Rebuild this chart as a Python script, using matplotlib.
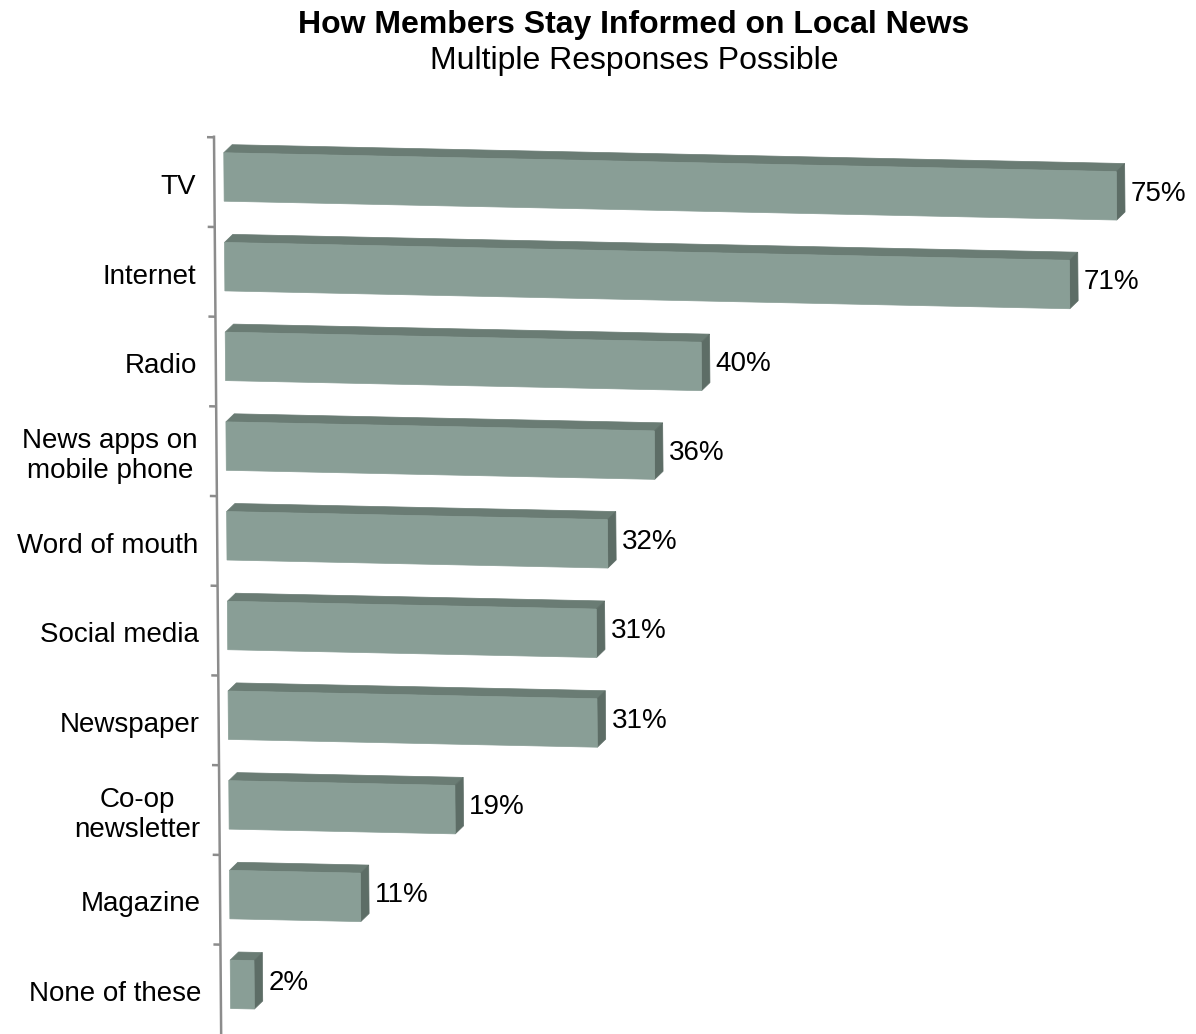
import matplotlib.pyplot as plt
from matplotlib.patches import Polygon

# survey results, top to bottom
categories = ['TV', 'Internet', 'Radio', 'News apps on\nmobile phone', 'Word of mouth',
              'Social media', 'Newspaper', 'Co-op\nnewsletter', 'Magazine', 'None of these']
shares = [75, 71, 40, 36, 32, 31, 31, 19, 11, 2]

plt.rcParams['font.family'] = ['Liberation Sans', 'DejaVu Sans']

FRONT = '#899e96'
TOP = '#6a7c74'
SIDE = '#5d6d66'
AXIS = '#8c8c8c'

SX = 0.06      # sideways lean of the floor per category row
SY = 0.0028    # downward drift per percent (perspective)
DX, DY = 0.7, -0.09   # bar depth
H = 0.27       # half height of a bar front


def proj(v, c):
    return v + SX * c, c + SY * v


def shift(p):
    return p[0] + DX, p[1] + DY


fig = plt.figure(figsize=(11.96, 10.34), dpi=100)
ax = fig.add_axes([0, 0, 1, 1])
ax.set_xlim(-18.82, 81.68)
ax.set_ylim(9.554, -1.973)
ax.axis('off')

# value axis line with ticks between the rows
ax.plot(*zip(proj(-0.81, -0.46), proj(-0.81, 9.8)), color=AXIS, lw=1.8,
        solid_capstyle='butt')
for k in range(10):
    c = k - 0.44
    ax.plot(*zip(proj(-1.4, c), proj(-0.81, c)), color=AXIS, lw=1.8,
            solid_capstyle='butt')

for i, (cat, v) in enumerate(zip(categories, shares)):
    fl_t, fr_t = proj(0, i - H), proj(v, i - H)
    fr_b, fl_b = proj(v, i + H), proj(0, i + H)
    ax.add_patch(Polygon([fl_t, fr_t, shift(fr_t), shift(fl_t)], closed=True,
                         facecolor=TOP, edgecolor=TOP, lw=0.5))
    ax.add_patch(Polygon([fr_t, fr_b, shift(fr_b), shift(fr_t)], closed=True,
                         facecolor=SIDE, edgecolor=SIDE, lw=0.5))
    ax.add_patch(Polygon([fl_t, fr_t, fr_b, fl_b], closed=True,
                         facecolor=FRONT, edgecolor=FRONT, lw=0.5))

    mx, my = proj(v, i)
    ax.text(mx + DX + 0.5, my + DY / 2 + 0.02, f'{v}%', ha='left', va='center',
            fontsize=20)
    ax.text(-2.4 + SX * i, i + 0.11, cat, ha='right', va='center',
            multialignment='center', fontsize=20, linespacing=1.2)

fig.text(634 / 1196, 1 - 33 / 1034, 'How Members Stay Informed on Local News',
         ha='center', va='baseline', fontsize=23, fontweight='bold')
fig.text(634 / 1196, 1 - 69 / 1034, 'Multiple Responses Possible',
         ha='center', va='baseline', fontsize=23)

fig.savefig('out.png', dpi=100)
